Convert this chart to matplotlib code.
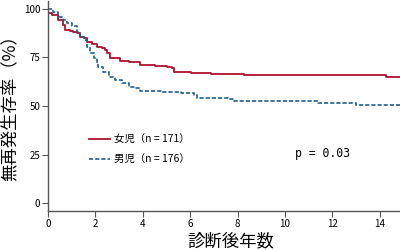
import matplotlib
matplotlib.use("Agg")
import matplotlib.pyplot as plt

plt.rcParams['font.family'] = ['Noto Sans CJK JP', 'DejaVu Sans']

# Female (女児) KM curve, step points (years, %)
female_t = [0, 0.01, 0.16, 0.44, 0.65, 0.72, 0.93, 1.07, 1.22, 1.36, 1.5, 1.64, 1.85, 2.06, 2.27,
            2.42, 2.49, 2.63, 3.05, 3.4, 3.83, 3.9, 4.53, 5.03, 5.24, 5.31, 6.02, 6.86, 8.25, 14.28, 14.85]
female_s = [100, 97.8, 96.9, 94.3, 91.8, 89.2, 88.7, 88.3, 87.5, 85.7, 84.9, 83.1, 81.8, 80.6, 79.7,
            78.9, 77.2, 74.6, 73.4, 72.8, 72.5, 71.1, 70.8, 70.3, 69.4, 67.7, 66.9, 66.7, 65.8, 64.8, 64.8]

# Male (男児) KM curve
male_t = [0, 0.23, 0.44, 0.65, 0.79, 1.0, 1.22, 1.36, 1.5, 1.64, 1.78, 1.92, 2.06, 2.13, 2.34, 2.56,
          2.84, 3.12, 3.4, 3.69, 3.9, 4.75, 5.59, 6.16, 6.3, 7.6, 7.85, 11.4, 13.0, 14.85]
male_s = [100, 98.6, 96.0, 94.3, 92.6, 90.9, 88.3, 85.7, 84.0, 80.6, 77.2, 74.6, 72.0, 70.3, 67.7, 65.1,
          63.4, 61.7, 60.0, 59.1, 57.7, 57.4, 56.5, 55.7, 54.0, 53.6, 52.8, 51.4, 50.5, 50.5]

xticks = [0, 2, 4, 6, 8, 10, 12, 14]
yticks = [0, 25, 50, 75, 100]

fig = plt.figure(figsize=(4, 2.5), dpi=100)
ax = fig.add_axes([0.12, 0.156, 0.88, 0.84])

ax.step(female_t, female_s, where='post', color='#b0122e', lw=1.3, label='女児（n = 171）')
ax.step(male_t, male_s, where='post', color='#1f5f8f', lw=1.2, ls=(0, (2.5, 1.2)), label='男児（n = 176）')

ax.set_xlim(0, 14.85)
ax.set_ylim(-4, 104)
ax.set_xticks(xticks)
ax.set_yticks(yticks)
for s in ['top', 'right']:
    ax.spines[s].set_visible(False)
for s in ['left', 'bottom']:
    ax.spines[s].set_color('#555555')
    ax.spines[s].set_linewidth(1.0)
ax.tick_params(axis='both', labelsize=7, length=4, color='#555555', pad=1.5)

ax.set_xlabel('診断後年数', fontsize=12.5)
ax.xaxis.set_label_coords(0.52, -0.1)
ax.set_ylabel('無再発生存率（%）', fontsize=12.5)
ax.yaxis.set_label_coords(-0.083, 0.51)

leg = ax.legend(loc='upper left', bbox_to_anchor=(0.105, 0.385), frameon=False, fontsize=7.5,
                handlelength=2.0, handletextpad=0.4, labelspacing=1.0, borderaxespad=0)

ax.text(11.6, 25.5, 'p = 0.03', fontsize=8.3, ha='center', va='center', family='DejaVu Sans Mono')

fig.savefig('out.png', dpi=100)
